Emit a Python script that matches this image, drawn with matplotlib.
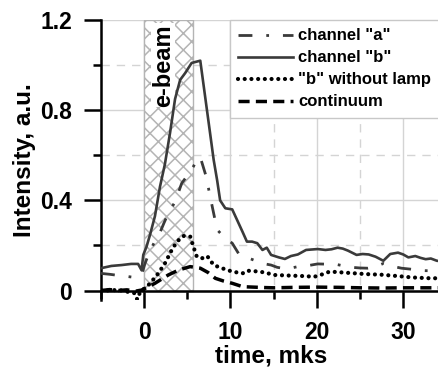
import matplotlib
matplotlib.use("Agg")
import matplotlib.pyplot as plt
from matplotlib.ticker import FixedLocator

# data
t_a = [-5, -4, -3.4, -2.3, -1.3, -0.3, 0.1, 0.6, 1.2, 1.8, 2.3, 2.8, 3.6, 4.35, 5.0, 5.7, 6.1, 6.5,
       7.15, 7.9, 8.45, 9.3, 10.2, 11.0, 11.8, 12.7, 14.0, 14.7, 15.4, 16.4, 17.3, 18.2, 19.2, 20.1,
       21.1, 22.0, 23.0, 24.0, 25.0, 25.9, 26.7, 27.7, 28.7, 29.8, 30.8, 31.7, 32.6, 33.7, 34.4]
ch_a = [0.076, 0.072, 0.069, 0.064, 0.059, 0.07, 0.12, 0.17, 0.215, 0.254, 0.3, 0.343, 0.395, 0.476,
        0.51, 0.55, 0.58, 0.592, 0.51, 0.37, 0.27, 0.235, 0.21, 0.16, 0.148, 0.135, 0.118, 0.113,
        0.103, 0.096, 0.102, 0.109, 0.112, 0.118, 0.117, 0.118, 0.11, 0.103, 0.1, 0.099, 0.104,
        0.12, 0.108, 0.099, 0.095, 0.09, 0.088, 0.088, 0.09]

t_b = [-5, -3.8, -2.6, -1.5, -0.7, -0.3, -0.1, 0.28, 0.7, 1.25, 1.83, 2.4, 3.0, 3.58, 4.17, 4.75,
       5.5, 6.0, 6.5, 7.1, 7.7, 8.05, 8.45, 8.8, 9.4, 10.2, 10.8, 11.4, 11.9, 12.5, 13.1, 13.7, 14.2,
       14.7, 15.6, 16.3, 17.0, 17.8, 18.75, 20.1, 21.0, 21.7, 22.4, 23.0, 23.6, 24.6, 25.3, 26.0,
       26.8, 27.7, 28.5, 29.4, 30.0, 30.6, 31.4, 32.0, 32.6, 33.2, 33.9, 34.4]
ch_b = [0.099, 0.109, 0.113, 0.118, 0.118, 0.09, 0.158, 0.195, 0.25, 0.33, 0.46, 0.56, 0.70, 0.85,
        0.935, 0.965, 1.01, 1.015, 1.02, 0.85, 0.68, 0.58, 0.49, 0.40, 0.365, 0.36, 0.31, 0.26,
        0.217, 0.217, 0.21, 0.18, 0.19, 0.158, 0.147, 0.14, 0.153, 0.16, 0.18, 0.184, 0.18, 0.183,
        0.19, 0.186, 0.177, 0.158, 0.162, 0.16, 0.15, 0.132, 0.162, 0.168, 0.16, 0.147, 0.153,
        0.145, 0.139, 0.142, 0.132, 0.13]

t_nl = [-5, -4, -3, -2, -1.1, -0.8, -0.5, 0, 0.66, 1.63, 2.4, 3.2, 3.8, 4.55, 5.33, 5.7, 6.1, 6.7,
        7.3, 8.05, 9.0, 10.2, 11.4, 11.9, 13.0, 14.0, 15.0, 17.0, 18.5, 19.7, 20.5, 21.5, 23.0,
        25.6, 27.5, 29.4, 31.0, 33.3, 34.4]
no_lamp = [0.002, 0.0, 0.003, -0.005, -0.012, -0.04, -0.01, 0.008, 0.03, 0.076, 0.12, 0.18, 0.217,
           0.242, 0.24, 0.195, 0.15, 0.143, 0.153, 0.113, 0.099, 0.084, 0.076, 0.088, 0.085, 0.08,
           0.069, 0.066, 0.064, 0.061, 0.07, 0.084, 0.08, 0.073, 0.07, 0.064, 0.058, 0.054, 0.055]

t_c = [-5, -4, -3, -2, -1, -0.3, 0.4, 1.25, 2.0, 2.8, 4.0, 5.33, 6.5, 7.4, 8.25, 9.2, 10.2, 11.4,
       12.0, 14.0, 15.0, 17.5, 20.0, 22.5, 25.0, 27.5, 30.0, 32.0, 34.4]
continuum = [0.0, 0.004, 0.0, 0.003, -0.003, 0.002, 0.015, 0.032, 0.05, 0.069, 0.091, 0.106, 0.099,
             0.08, 0.054, 0.042, 0.032, 0.017, 0.016, 0.013, 0.012, 0.014, 0.015, 0.014, 0.012,
             0.011, 0.012, 0.012, 0.012]

ebeam = [0, 5.6]
x_major = [0, 10, 20, 30]
x_minor = [-5, 5, 15, 25]
y_major = [0, 0.4, 0.8, 1.2]
y_minor = [0.2, 0.6, 1.0]

plt.rcParams['font.family'] = ['Liberation Sans', 'DejaVu Sans']
plt.rcParams['font.weight'] = 'bold'
plt.rcParams['hatch.color'] = '#b4b4b4'
plt.rcParams['hatch.linewidth'] = 1.1

fig = plt.figure(figsize=(4.39, 3.73), dpi=100)
ax = fig.add_axes([0.230, 0.197, 0.775, 0.749])

grid = '#d4d4d4'
ax.xaxis.set_major_locator(FixedLocator(x_major))
ax.xaxis.set_minor_locator(FixedLocator(x_minor))
ax.yaxis.set_major_locator(FixedLocator(y_major))
ax.yaxis.set_minor_locator(FixedLocator(y_minor))
ax.grid(which='major', color=grid, lw=1.0, ls='-', zorder=0)
ax.grid(which='minor', color=grid, lw=1.0, ls=(0, (6, 5)), zorder=0)
ax.set_axisbelow(True)

# e-beam region
ax.fill_between(ebeam, 0, 1.2, facecolor='white', edgecolor='#b4b4b4', hatch='xx', lw=1.0, zorder=1.5)
ax.text(2.2, 1.0, 'e-beam', rotation=90, ha='center', va='center', fontsize=17, fontweight='bold',
        bbox=dict(facecolor='white', edgecolor='none', pad=0.5), zorder=1.6)

dark = '#3a3a3a'
ax.plot(t_a, ch_a, color=dark, lw=2.0, ls=(0, (5, 5, 1, 5)), label='channel "a"', zorder=3)
ax.plot(t_b, ch_b, color=dark, lw=1.9, ls='-', label='channel "b"', zorder=3)
ax.plot(t_nl, no_lamp, color='black', lw=3.0, ls=(0, (0.01, 1.6)), dash_capstyle='round',
        label='"b" without lamp', zorder=3)
ax.plot(t_c, continuum, color='black', lw=2.5, ls=(0, (3.2, 1.8)), label='continuum', zorder=3)

ax.set_xlim(-5, 34.4)
ax.set_ylim(-0.04, 1.2)
ax.spines['top'].set_visible(False)
ax.spines['right'].set_visible(False)
ax.spines['bottom'].set_position(('data', 0))
ax.spines['bottom'].set_linewidth(1.8)
ax.spines['left'].set_linewidth(1.8)

ax.tick_params(which='major', direction='out', length=12, width=1.8, labelsize=16.5)
ax.tick_params(which='minor', direction='out', length=6, width=1.8)
ax.tick_params(axis='x', which='major', pad=10)
ax.tick_params(axis='y', which='major', pad=9)
ax.set_xticklabels(['0', '10', '20', '30'])
ax.set_yticklabels(['0', '0.4', '0.8', '1.2'])

ax.set_xlabel('time, mks', fontsize=17.5, fontweight='bold', labelpad=0)
ax.set_ylabel('Intensity, a.u.', fontsize=17.5, fontweight='bold', labelpad=3)

leg = ax.legend(loc='upper left', bbox_to_anchor=(0.379, 1.0), fontsize=12, frameon=True,
                fancybox=False, framealpha=1, edgecolor='#c8c8c8', borderaxespad=0,
                handlelength=3.3, handletextpad=0.3, labelspacing=0.42, borderpad=0.5)
leg.get_frame().set_linewidth(1.0)
leg.set_zorder(5)

fig.savefig('out.png', dpi=100)
